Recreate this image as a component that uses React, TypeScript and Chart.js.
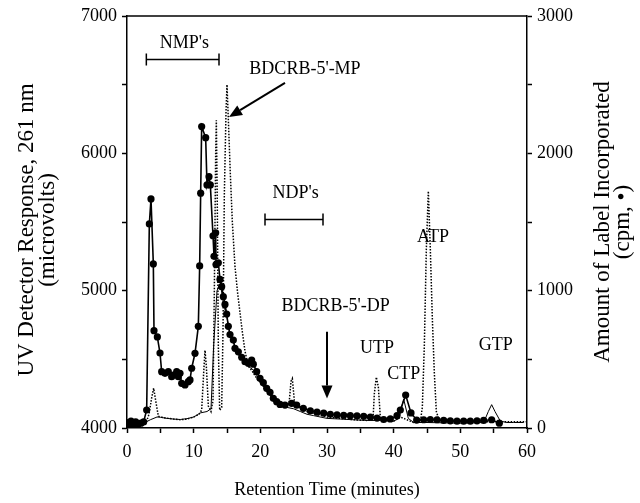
import React, { useEffect, useRef } from 'react';
import { Chart, registerables } from 'chart.js';
Chart.register(...registerables);

const FONT = "'Liberation Serif', 'Times New Roman', serif";

// Label incorporated (cpm, right axis) — solid line with dots
const dotTimes = [0, 0.3, 0.6, 0.9, 1.3, 1.7, 2.1, 2.5, 2.95, 3.35, 3.6, 3.95, 4.05, 4.55, 4.95, 5.2, 5.7, 6.2, 6.7, 6.95, 7.45, 7.7, 7.95, 8.2, 8.7, 9.2, 9.45, 9.7, 10.2, 10.7, 10.9, 11.05, 11.2, 11.8, 12.0, 12.3, 12.5, 12.9, 13.05, 13.3, 13.35, 13.7, 13.95, 14.2, 14.45, 14.7, 14.95, 15.2, 15.45, 15.95, 16.2, 16.7, 17.2, 17.7, 18.2, 18.7, 18.95, 19.45, 19.95, 20.45, 20.95, 21.45, 21.95, 22.45, 22.95, 23.7, 24.7, 25.45, 26.45, 27.5, 28.5, 29.5, 30.5, 31.5, 32.5, 33.5, 34.5, 35.5, 36.5, 37.5, 38.5, 39.5, 40.5, 41.0, 41.8, 42.6, 43.45, 44.5, 45.5, 46.5, 47.5, 48.5, 49.5, 50.5, 51.5, 52.5, 53.5, 54.7, 55.85];
const dotCpm = [40, 20, 50, 25, 45, 30, 35, 45, 131, 1486, 1668, 1195, 709, 663, 546, 410, 398, 410, 374, 386, 410, 374, 398, 325, 313, 337, 350, 435, 544, 740, 1180, 1710, 2195, 2114, 1770, 1830, 1770, 1400, 1250, 1421, 1190, 1203, 1082, 1029, 956, 900, 830, 740, 680, 640, 580, 555, 515, 483, 471, 495, 465, 410, 362, 330, 289, 260, 216, 192, 172, 167, 180, 167, 143, 125, 115, 108, 100, 95, 92, 90, 88, 85, 80, 72, 62, 66, 90, 131, 240, 110, 58, 60, 62, 60, 55, 52, 50, 50, 50, 52, 55, 60, 35];

// UV detector trace (left axis) — dotted
const uvTimes = [0, 1, 2, 2.8, 3.3, 3.7, 4.0, 4.3, 4.7, 5.5, 7, 8, 9, 10, 10.8, 11.2, 11.5, 11.7, 11.9, 12.2, 12.6, 12.9, 13.1, 13.3, 13.4, 13.55, 13.7, 13.9, 14.2, 14.4, 14.6, 14.85, 15.0, 15.2, 15.5, 15.8, 16.2, 16.6, 16.95, 17.3, 17.7, 18.2, 18.7, 19.5, 20.5, 21.5, 22.5, 23.5, 24.3, 24.6, 24.8, 25.1, 25.8, 27, 28.5, 30, 32, 34, 36, 36.9, 37.1, 37.4, 37.7, 38.0, 38.5, 40, 41, 42, 43, 44, 44.3, 44.6, 44.9, 45.2, 45.5, 45.8, 46.1, 46.4, 46.8, 48, 50, 52, 54, 56, 58, 60];
const uvValues = [4020, 4025, 4020, 4030, 4100, 4220, 4290, 4200, 4086, 4075, 4065, 4060, 4065, 4080, 4100, 4130, 4400, 4565, 4450, 4160, 4120, 4200, 5000, 6000, 6240, 5600, 4600, 4130, 4150, 4700, 5700, 6300, 6500, 6250, 5850, 5500, 5175, 4980, 4840, 4700, 4560, 4450, 4420, 4360, 4300, 4240, 4200, 4170, 4170, 4340, 4360, 4200, 4150, 4120, 4100, 4080, 4070, 4060, 4055, 4060, 4250, 4370, 4300, 4080, 4055, 4050, 4080, 4060, 4040, 4045, 4150, 4600, 5300, 5725, 5300, 4800, 4400, 4120, 4060, 4055, 4050, 4050, 4045, 4045, 4045, 4045];

// Thin solid trace (left axis)
const baseTimes = [0, 1, 2, 2.7, 3.5, 4.5, 5, 6, 7, 8, 9, 10, 10.7, 11, 12, 12.6, 13.0, 13.5, 14, 14.5, 15, 15.5, 16, 16.5, 17, 17.5, 18, 18.5, 19, 19.5, 20, 21, 22, 23, 24, 25, 26, 27, 28, 30, 32, 34, 36, 38, 40, 40.8, 41.5, 42.2, 43, 45, 50, 53.5, 54.2, 54.7, 55.2, 56, 57, 58, 59.5];
const baseValues = [4030, 4040, 4035, 4040, 4060, 4080, 4078, 4070, 4065, 4062, 4068, 4080, 4100, 4110, 4120, 4140, 4600, 5000, 5050, 4900, 4800, 4680, 4620, 4560, 4510, 4480, 4460, 4440, 4420, 4380, 4340, 4270, 4200, 4160, 4150, 4140, 4120, 4100, 4090, 4070, 4065, 4060, 4055, 4055, 4050, 4070, 4210, 4070, 4040, 4040, 4035, 4040, 4120, 4170, 4120, 4050, 4040, 4040, 4040];

// Axis ticks
const xTickStep = 5;
const xLabelEvery = 10;
const leftRange = [4000, 7000];
const rightRange = [0, 3000];
const yTickStep = 500;
const yLabelEvery = 1000;

// Annotations (positions in data units: minutes, left-axis units)
const labelTexts = ["NMP's", "BDCRB-5'-MP", "NDP's", "BDCRB-5'-DP", 'UTP', 'CTP', 'ATP', 'GTP'];
const labelTimes = [8.6, 26.7, 25.3, 31.3, 37.5, 41.5, 45.9, 55.3];
const labelValues = [6800, 6611, 5708, 4885, 4579, 4389, 5387, 4600];
const bracketStart = [2.9, 20.7];
const bracketEnd = [13.8, 29.4];
const bracketValue = [6684, 5518];
const arrowFrom = [[23.7, 6513], [30, 4700]];
const arrowTo = [[15.3, 6265], [30, 4215]];

const leftTitle = ['UV Detector Response, 261 nm', '(microvolts)'];
const rightTitle = ['Amount of Label Incorporated', '(cpm, \u2022)'];
const bottomTitle = 'Retention Time (minutes)';

export default function App() {
  const ref = useRef<HTMLCanvasElement>(null);
  useEffect(() => {
    const canvas = ref.current;
    if (!canvas) return;

    const annot = {
      id: 'annot',
      afterDraw(chart: any) {
        const { ctx, chartArea, scales } = chart;
        const xs = scales.x;
        const ys = scales.y;
        ctx.save();
        ctx.strokeStyle = '#000';
        ctx.fillStyle = '#000';
        // top frame line
        ctx.lineWidth = 1.5;
        ctx.beginPath();
        ctx.moveTo(chartArea.left, chartArea.top);
        ctx.lineTo(chartArea.right, chartArea.top);
        ctx.stroke();
        // labels
        ctx.font = `18px ${FONT}`;
        ctx.textAlign = 'center';
        ctx.textBaseline = 'middle';
        labelTexts.forEach((t, i) => {
          ctx.fillText(t, xs.getPixelForValue(labelTimes[i]), ys.getPixelForValue(labelValues[i]));
        });
        // brackets
        ctx.lineWidth = 1.5;
        bracketStart.forEach((s, i) => {
          const x1 = xs.getPixelForValue(s);
          const x2 = xs.getPixelForValue(bracketEnd[i]);
          const y = ys.getPixelForValue(bracketValue[i]);
          ctx.beginPath();
          ctx.moveTo(x1, y); ctx.lineTo(x2, y);
          ctx.moveTo(x1, y - 6); ctx.lineTo(x1, y + 6);
          ctx.moveTo(x2, y - 6); ctx.lineTo(x2, y + 6);
          ctx.stroke();
        });
        // arrows
        arrowFrom.forEach((f, i) => {
          const x1 = xs.getPixelForValue(f[0]);
          const y1 = ys.getPixelForValue(f[1]);
          const x2 = xs.getPixelForValue(arrowTo[i][0]);
          const y2 = ys.getPixelForValue(arrowTo[i][1]);
          const ang = Math.atan2(y2 - y1, x2 - x1);
          const hl = 13, hw = 5.5;
          const bx = x2 - hl * Math.cos(ang);
          const by = y2 - hl * Math.sin(ang);
          ctx.lineWidth = 2;
          ctx.beginPath();
          ctx.moveTo(x1, y1); ctx.lineTo(bx, by);
          ctx.stroke();
          ctx.beginPath();
          ctx.moveTo(x2, y2);
          ctx.lineTo(bx + hw * Math.sin(ang), by - hw * Math.cos(ang));
          ctx.lineTo(bx - hw * Math.sin(ang), by + hw * Math.cos(ang));
          ctx.closePath();
          ctx.fill();
        });
        // vertical titles (both read bottom to top)
        ctx.font = `23px ${FONT}`;
        const cy = (chartArea.top + chartArea.bottom) / 2;
        leftTitle.forEach((t, i) => {
          ctx.save();
          ctx.translate(chartArea.left - 100 + i * 20.5, cy + 8);
          ctx.rotate(-Math.PI / 2);
          ctx.fillText(t, 0, 0);
          ctx.restore();
        });
        rightTitle.forEach((t, i) => {
          ctx.save();
          ctx.translate(chartArea.right + 76 + i * 20, cy);
          ctx.rotate(-Math.PI / 2);
          ctx.fillText(t, 0, 0);
          ctx.restore();
        });
        ctx.restore();
      },
    };

    const chart = new Chart(canvas, {
      type: 'line',
      data: {
        datasets: [
          {
            label: 'cpm',
            data: dotTimes.map((t, i) => ({ x: t, y: dotCpm[i] })),
            yAxisID: 'y1',
            borderColor: '#000',
            backgroundColor: '#000',
            borderWidth: 1.6,
            pointRadius: 3.6,
            pointBackgroundColor: '#000',
            pointBorderColor: '#000',
            pointBorderWidth: 0,
            tension: 0,
          },
          {
            label: 'UV dotted',
            data: uvTimes.map((t, i) => ({ x: t, y: uvValues[i] })),
            yAxisID: 'y',
            borderColor: '#000',
            borderWidth: 1.5,
            borderDash: [1.5, 1.5],
            pointRadius: 0,
            tension: 0,
          },
          {
            label: 'UV solid',
            data: baseTimes.map((t, i) => ({ x: t, y: baseValues[i] })),
            yAxisID: 'y',
            borderColor: '#000',
            borderWidth: 1,
            pointRadius: 0,
            tension: 0,
          },
        ],
      },
      options: {
        animation: false,
        responsive: true,
        maintainAspectRatio: false,
        layout: { padding: { top: 16, left: 0, right: 0, bottom: 0 } },
        plugins: { legend: { display: false }, tooltip: { enabled: false } },
        scales: {
          x: {
            type: 'linear',
            min: 0,
            max: 60,
            afterFit: (s: any) => { s.height = 75; },
            border: { display: true, color: '#000', width: 1.5 },
            grid: { drawOnChartArea: false, drawTicks: true, tickLength: 5, color: '#000', tickWidth: 1.5 },
            ticks: {
              stepSize: xTickStep,
              padding: 8,
              color: '#000',
              font: { family: FONT, size: 18 },
              maxRotation: 0,
              callback: (v: any) => (Number(v) % xLabelEvery === 0 ? String(v) : ''),
            },
            title: {
              display: true,
              text: bottomTitle,
              color: '#000',
              font: { family: FONT, size: 18 },
              padding: { top: 0, bottom: 2 },
            },
          },
          y: {
            type: 'linear',
            position: 'left',
            min: leftRange[0],
            max: leftRange[1],
            afterFit: (s: any) => { s.width = 127; },
            border: { display: true, color: '#000', width: 1.5 },
            grid: { drawOnChartArea: false, drawTicks: true, tickLength: 5, color: '#000', tickWidth: 1.5 },
            ticks: {
              stepSize: yTickStep,
              padding: 5,
              color: '#000',
              font: { family: FONT, size: 18 },
              callback: (v: any) => (Number(v) % yLabelEvery === 0 ? String(v) : ''),
            },
          },
          y1: {
            type: 'linear',
            position: 'right',
            min: rightRange[0],
            max: rightRange[1],
            afterFit: (s: any) => { s.width = 113; },
            border: { display: true, color: '#000', width: 1.5 },
            grid: { drawOnChartArea: false, drawTicks: true, tickLength: 5, color: '#000', tickWidth: 1.5 },
            ticks: {
              stepSize: yTickStep,
              padding: 5,
              color: '#000',
              font: { family: FONT, size: 18 },
              callback: (v: any) => (Number(v) % yLabelEvery === 0 ? String(v) : ''),
            },
          },
        },
      },
      plugins: [annot],
    });
    return () => chart.destroy();
  }, []);

  return (
    <div style={{ position: 'fixed', left: 0, top: 0, width: 640, height: 503, background: '#fff' }}>
      <canvas ref={ref} />
    </div>
  );
}
